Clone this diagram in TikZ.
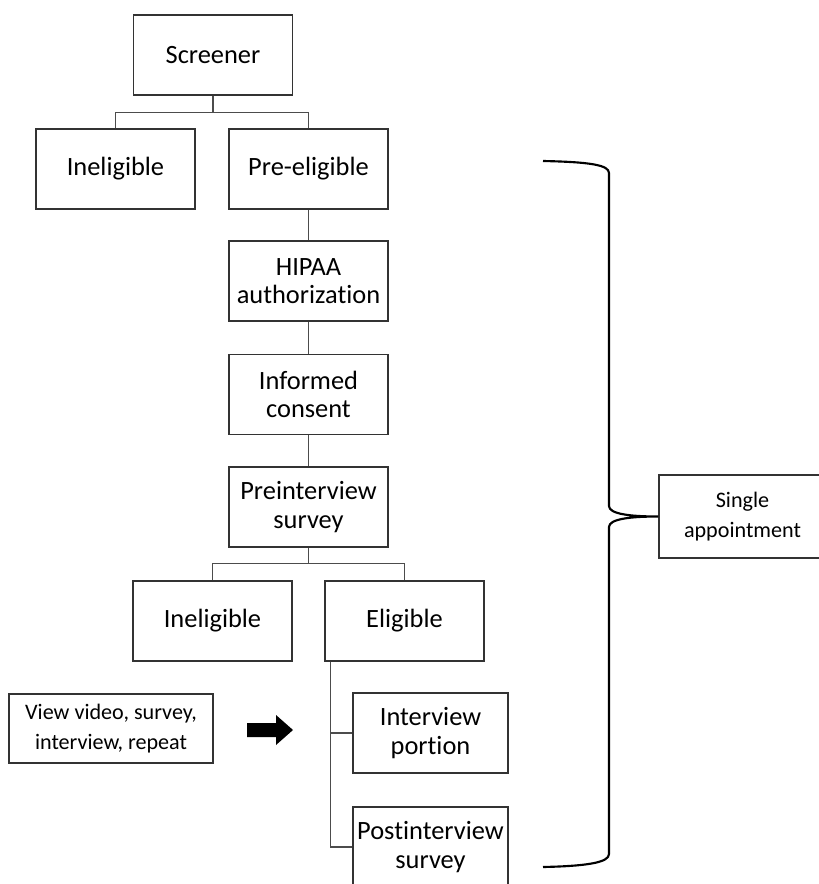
\documentclass[tikz,border=0pt]{standalone}
\usepackage{fontspec}
\setmainfont[Ligatures={NoCommon,NoContextual,NoRare}]{Carlito}

\begin{document}
\begin{tikzpicture}[x=0.75pt,y=-0.75pt,
	box/.style={draw=black!80,line width=0.8pt,align=center,inner sep=2pt,
		minimum width=119.25pt,minimum height=60pt,font=\fontsize{19.8}{21.5}\selectfont},
	note/.style={draw=black!80,line width=0.8pt,align=center,inner sep=2pt,
		font=\fontsize{16.6}{22.5}\selectfont},
	link/.style={draw=black!70,line width=0.8pt}]
	\useasboundingbox (0,0) rectangle (818,884);
	%
	\node[box] (scr) at (213,55) {Screener};
	\node[box] (inel) at (115.5,169) {Ineligible};
	\node[box] (pre) at (308.5,169) {Pre-eligible};
	\node[box] (hipaa) at (308.5,281) {HIPAA\\authorization};
	\node[box] (cons) at (308.5,394.5) {Informed\\consent};
	\node[box] (prei) at (308.5,507) {Preinterview\\survey};
	\node[box] (inelb) at (212.5,621) {Ineligible};
	\node[box] (elig) at (404.5,621) {Eligible};
	\node[box,minimum width=116.25pt] (intv) at (430.5,733) {Interview\\portion};
	\node[box,minimum width=116.25pt] (post) at (430.5,847) {Postinterview\\survey};
	\node[note,minimum width=153pt,minimum height=51.75pt] (vid) at (111,728.5) {View video, survey,\\interview, repeat};
	\node[note,minimum width=125.25pt,minimum height=62.25pt] (appt) at (742.5,516.5) {Single\\appointment};
	%
	\draw[link] (scr.south) -- ++(0,17) coordinate (j1) -| (inel.north);
	\draw[link] (j1) -| (pre.north);
	\draw[link] (pre) -- (hipaa) -- (cons) -- (prei);
	\draw[link] (prei.south) -- ++(0,16) coordinate (j2) -| (inelb.north);
	\draw[link] (j2) -| (elig.north);
	\draw[link] ([xshift=4.5pt]elig.south west) |- (intv.west);
	\draw[link] ([xshift=4.5pt]elig.south west) |- (post.west);
	%
	\fill (247,723) -- (276,723) -- (276,715) -- (293,730) -- (276,745) -- (276,737) -- (247,737) -- cycle;
	%
	\draw[line width=1.6pt] (543,161) .. controls (590,162) and (609,165) .. (609,173) -- (609,506)
		.. controls (609,514) and (630,516.5) .. (appt.west)
		.. controls (630,516.5) and (609,519) .. (609,527) -- (609,854)
		.. controls (609,862) and (590,866) .. (543,867);
\end{tikzpicture}
\end{document}
